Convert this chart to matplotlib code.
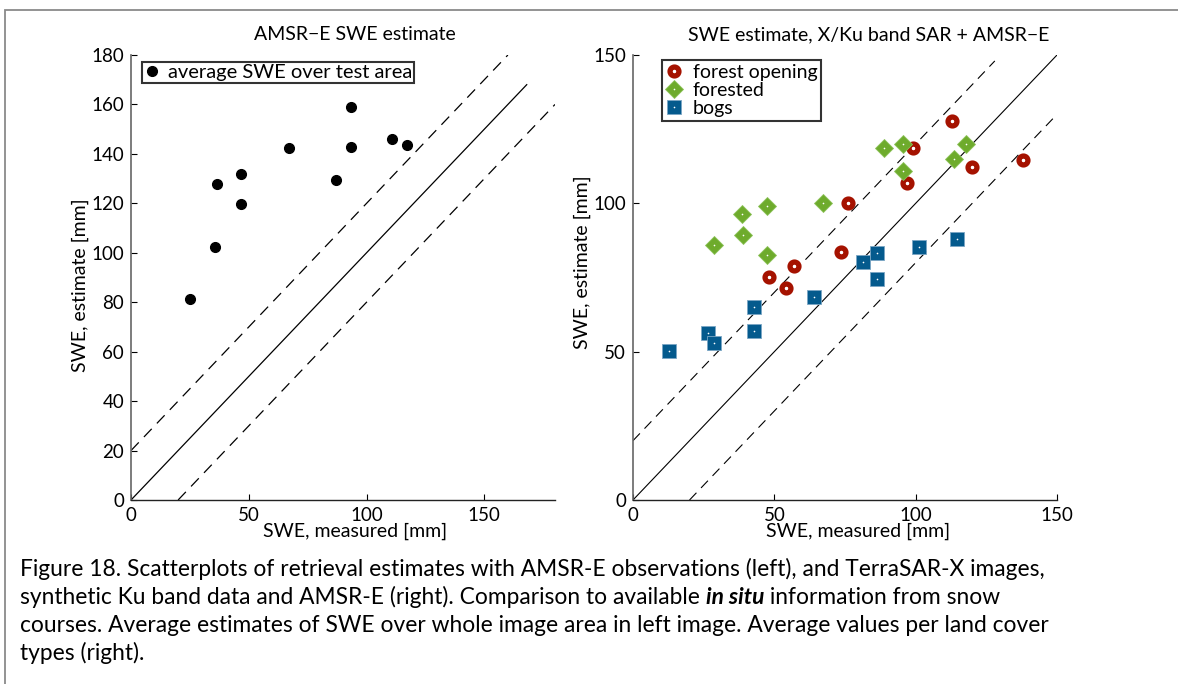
import matplotlib
matplotlib.use("Agg")
import matplotlib.pyplot as plt
from matplotlib.patches import Rectangle
from matplotlib.legend_handler import HandlerTuple

plt.rcParams['font.family'] = ['Lato', 'DejaVu Sans']

# left panel: average SWE over test area
amsr_meas = [25, 35.6, 36.6, 46.8, 46.8, 66.9, 86.9, 93.6, 93.6, 111, 117.3]
amsr_est = [81.5, 102.3, 128, 131.7, 119.9, 142.5, 129.3, 158.9, 142.9, 146, 143.7]

# right panel: per land cover type
open_meas = [112.9, 98.9, 96.9, 120, 138, 75.9, 73.5, 57, 48, 54]
open_est = [127.8, 118.7, 106.7, 112.1, 114.5, 100.2, 83.5, 79, 75.2, 71.6]
forest_meas = [28.7, 38.4, 38.9, 47.4, 47.4, 67.1, 88.7, 95.5, 95.5, 113.5, 117.7]
forest_est = [85.8, 96.5, 89.3, 99.1, 82.6, 100.2, 118.5, 119.9, 111, 115, 119.9]
bog_meas = [12.8, 26.4, 28.8, 42.7, 42.7, 63.9, 81.5, 86.2, 86.2, 101.3, 114.6]
bog_est = [50.3, 56.4, 52.8, 65, 57.1, 68.5, 80.2, 83.4, 74.4, 85.4, 88]

left_yticks = [0, 20, 40, 60, 80, 100, 120, 140, 160, 180]
left_xticks = [0, 50, 100, 150]
right_ticks = [0, 50, 100, 150]

W, H = 1178, 684
fig = plt.figure(figsize=(W / 100, H / 100), dpi=100)

# page frame
fig.add_artist(Rectangle((5 / W, -0.1), 1.2, 1 - 10 / H + 0.1, transform=fig.transFigure,
                         fill=False, edgecolor='#8a8a8a', linewidth=1.3))

ax1 = fig.add_axes([131 / W, 1 - 500 / H, 424 / W, 445 / H])
ax2 = fig.add_axes([633 / W, 1 - 500 / H, 424 / W, 445 / H])

dash = (0, (9, 6))
for ax in (ax1, ax2):
    ax.spines['top'].set_visible(False)
    ax.spines['right'].set_visible(False)
    ax.spines['left'].set_color('#666666')
    ax.spines['left'].set_linewidth(1.2)
    ax.spines['bottom'].set_color('#222222')
    ax.spines['bottom'].set_linewidth(1.0)
    ax.tick_params(direction='in', length=4, width=0.8, labelsize=13.5, pad=5)
    ax.set_facecolor('none')

# left panel
ax1.plot([0, 168], [0, 168], color='black', lw=0.9)
ax1.plot([0, 160], [20, 180], color='black', lw=0.9, linestyle=dash)
ax1.plot([20, 180], [0, 160], color='black', lw=0.9, linestyle=dash)
ax1.plot(amsr_meas, amsr_est, 'o', color='black', ms=7, label='average SWE over test area')
ax1.set_xlim(0, 180)
ax1.set_ylim(0, 180)
ax1.set_xticks(left_xticks)
ax1.set_yticks(left_yticks)
ax1.set_xlabel('SWE, measured [mm]', fontsize=14)
ax1.set_ylabel('SWE, estimate [mm]', fontsize=14)
ax1.xaxis.set_label_coords(0.528, -0.052)
ax1.yaxis.set_label_coords(-0.098, 0.483)
leg1 = ax1.legend(loc='upper left', bbox_to_anchor=(0.025, 0.985), fontsize=14.5, frameon=True,
                  fancybox=False, edgecolor='black', handlelength=0.8, handletextpad=0.4,
                  borderpad=0.1, borderaxespad=0)
leg1.get_frame().set_linewidth(1.5)

# right panel
red = '#a51200'
green = '#6eab2c'
blue = '#045a8d'
ax2.plot([0, 150], [0, 150], color='black', lw=0.8)
ax2.plot([0, 128], [20, 148], color='black', lw=0.8, linestyle=dash)
ax2.plot([20, 150], [0, 130], color='black', lw=0.8, linestyle=dash)
h1 = ax2.plot(open_meas, open_est, 'o', ms=6.4, mfc='white', mec=red, mew=3.8)[0]
d1 = ax2.plot(open_meas, open_est, 'o', ms=1.8, color='white', mew=0)[0]
h2 = ax2.plot(forest_meas, forest_est, 'D', ms=9.5, color=green, mec='#8cc25a', mew=0.6)[0]
d2 = ax2.plot(forest_meas, forest_est, 'o', ms=1.2, color='white', mew=0)[0]
h3 = ax2.plot(bog_meas, bog_est, 's', ms=9.5, color=blue, mec='#7aa6c4', mew=0.6)[0]
d3 = ax2.plot(bog_meas, bog_est, 'o', ms=1.2, color='white', mew=0)[0]
ax2.set_xlim(0, 150)
ax2.set_ylim(0, 150)
ax2.set_xticks(right_ticks)
ax2.set_yticks(right_ticks)
ax2.set_xlabel('SWE, measured [mm]', fontsize=14)
ax2.set_ylabel('SWE, estimate [mm]', fontsize=14)
ax2.xaxis.set_label_coords(0.53, -0.052)
ax2.yaxis.set_label_coords(-0.098, 0.535)
leg2 = ax2.legend([(h1, d1), (h2, d2), (h3, d3)], ['forest opening', 'forested', 'bogs'],
                  handler_map={tuple: HandlerTuple(ndivide=1)},
                  loc='upper left', bbox_to_anchor=(0.068, 0.988), fontsize=14, frameon=True,
                  fancybox=False, edgecolor='black', handlelength=0.9, handletextpad=0.5,
                  borderpad=0.2, labelspacing=0.05, borderaxespad=0)
leg2.get_frame().set_linewidth(1.5)

# titles
fig.text(354.5 / W, 1 - 35 / H, 'AMSR\u2212E SWE estimate', ha='center', va='center', fontsize=14)
fig.text(869 / W, 1 - 35 / H, 'SWE estimate, X/Ku band SAR + AMSR\u2212E', ha='center', va='center',
         fontsize=14)

# caption
cap_lines = [
    ['Figure 18. Scatterplots of retrieval estimates with AMSR-E observations (left), and TerraSAR-X images,'],
    ['synthetic Ku band data and AMSR-E (right). Comparison to available ', 'in situ',
     ' information from snow'],
    ['courses. Average estimates of SWE over whole image area in left image. Average values per land cover'],
    ['types (right).'],
]
fig.canvas.draw()
renderer = fig.canvas.get_renderer()
for i, parts in enumerate(cap_lines):
    x = 20
    y = 1 - (569 + 28 * i) / H
    for j, part in enumerate(parts):
        bold = len(parts) > 1 and j == 1
        t = fig.text(x / W, y, part, ha='left', va='center', fontsize=16.4,
                     fontweight='bold' if bold else 'normal',
                     fontstyle='italic' if bold else 'normal')
        x += t.get_window_extent(renderer).width

fig.savefig('out.png', dpi=100)
